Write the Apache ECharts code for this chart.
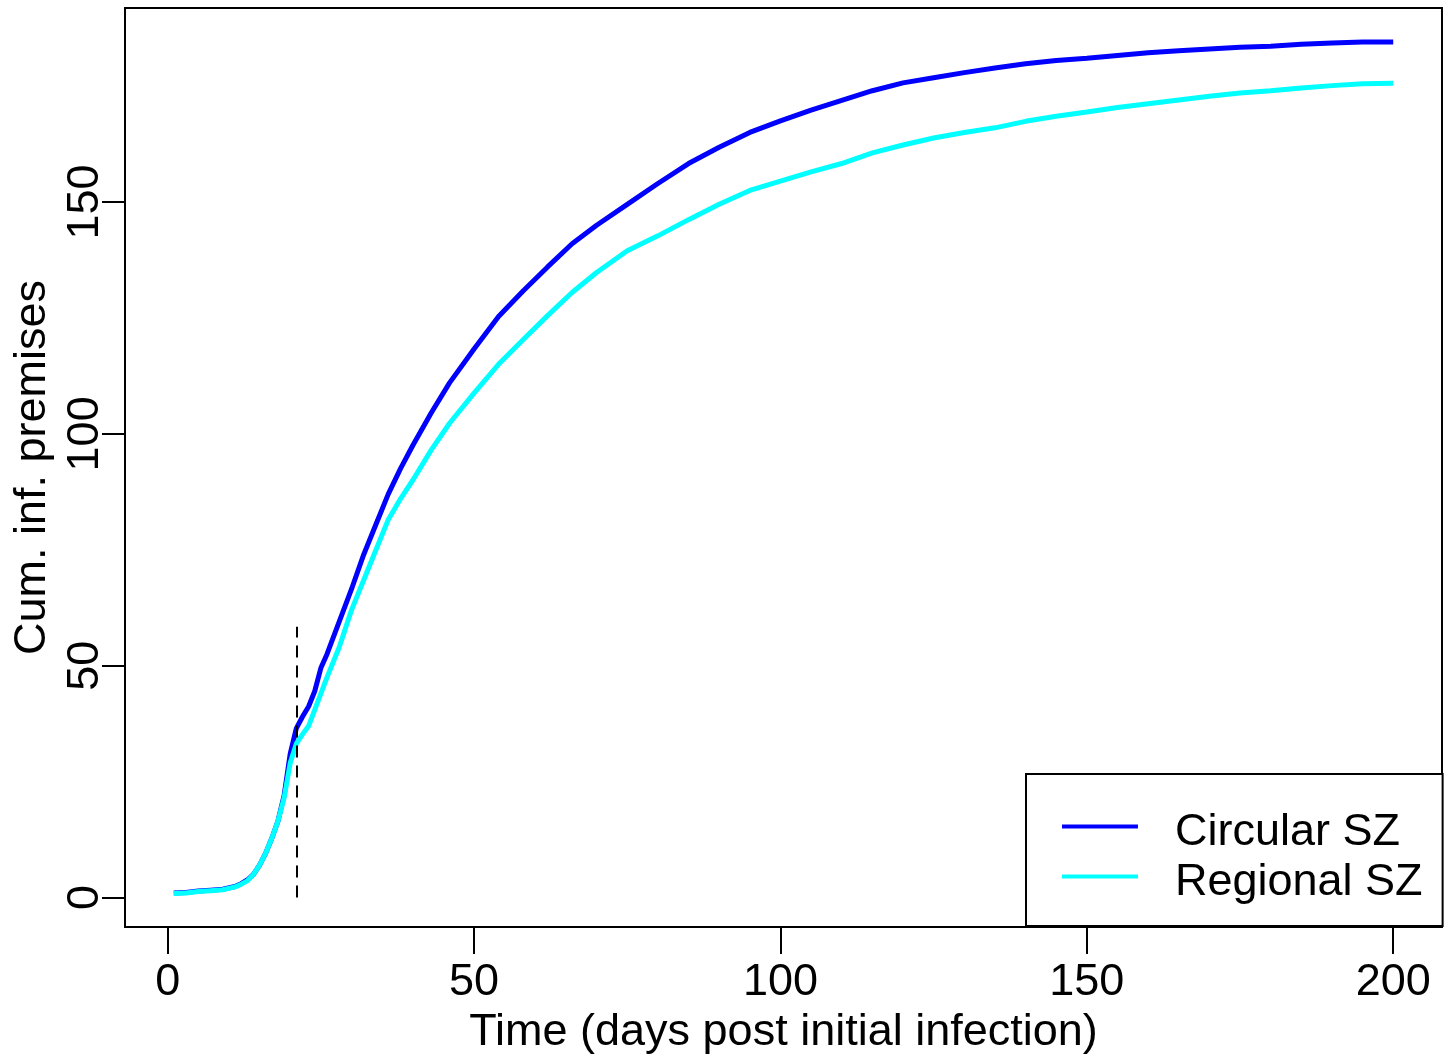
<!DOCTYPE html>
<html lang="en">
<head>
    <meta charset="UTF-8">
    <title>Cumulative infected premises</title>
    <script src="https://cdn.jsdelivr.net/npm/echarts@6/dist/echarts.min.js"></script>
    <style>
        html, body { margin: 0; padding: 0; background: #fff; }
    </style>
</head>
<body>
    <div id="main" style="width: 1444px;height:1060px;"></div>
    <script type="text/javascript">
        // days post initial infection
        var days = [1, 3, 5, 7, 9, 11, 12, 13, 14, 15, 16, 17, 18, 19, 20,
            21, 22, 23, 24, 25, 26, 28, 30, 32, 34, 36, 38, 40, 43, 46, 50, 54, 58, 62, 66, 70,
            75, 80, 85, 90, 95, 100, 105, 110, 115, 120, 125, 130, 135, 140, 145, 150,
            155, 160, 165, 170, 175, 180, 185, 190, 195, 200];

        var circularSZ = [1, 1.1, 1.4, 1.6, 1.8, 2.4, 3, 3.8, 5, 7, 9.6, 12.8, 16.5, 22, 31,
            36.5, 39, 41.2, 44.5, 49.5, 52.5, 59.5, 66.5, 74, 80.5, 87, 92.5, 97.5, 104.5, 111, 118.3, 125.3, 130.8, 136, 141, 145,
            149.5, 154, 158.3, 161.8, 165, 167.5, 169.8, 171.9, 174, 175.7, 176.8, 177.9, 178.9, 179.8, 180.5, 181,
            181.6, 182.2, 182.6, 183, 183.4, 183.6, 184, 184.3, 184.5, 184.5];

        var regionalSZ = [0.9, 1, 1.3, 1.5, 1.7, 2.3, 2.9, 3.6, 5, 7, 9.6, 12.8, 16.5, 21.5, 29,
            33.2, 35.2, 37, 40.5, 44, 47.5, 54, 62, 68.5, 75, 81.5, 86, 90, 96.5, 102.3, 108.8, 115, 120.3, 125.5, 130.5, 134.8,
            139.5, 142.7, 146.2, 149.5, 152.5, 154.5, 156.5, 158.3, 160.6, 162.3, 163.8, 165, 166, 167.4, 168.5, 169.4,
            170.4, 171.2, 172, 172.8, 173.5, 174, 174.6, 175.1, 175.5, 175.6];

        var xTicks = [0, 50, 100, 150, 200];
        var yTicks = [0, 50, 100, 150];

        // dashed marker (day, top value)
        var markerDay = 21;
        var markerTop = 58.4;

        function pairs(xs, ys) {
            var out = [];
            for (var i = 0; i < xs.length; i++) out.push([xs[i], ys[i]]);
            return out;
        }

        // legend line sits at the top of a taller icon box so the text lands a bit lower
        var legendIcon = 'path://M0,0H76V4H0Z M0,17H0.01V17.01H0Z';

        var font = 'Liberation Sans, Arial, sans-serif';
        var myChart = echarts.init(document.getElementById('main'));

        myChart.setOption({
            animation: false,
            backgroundColor: '#fff',
            grid: {
                left: 125, right: 2, top: 8, bottom: 133,
                show: true, borderColor: '#000', borderWidth: 2
            },
            legend: {
                orient: 'vertical',
                left: 1026, top: 774,
                padding: [34, 20, 18, 36],
                itemGap: 0,
                itemWidth: 76, itemHeight: 17,
                icon: legendIcon,
                borderColor: '#000', borderWidth: 2,
                backgroundColor: '#fff',
                textStyle: { fontFamily: font, fontSize: 45, color: '#000', lineHeight: 50, padding: [0, 0, 0, 32] },
                data: ['Circular SZ', 'Regional SZ']
            },
            xAxis: {
                type: 'value',
                min: -6.96, max: 207.96,
                splitLine: { show: false },
                axisLine: { show: true, onZero: false, lineStyle: { color: '#000', width: 2 } },
                axisTick: { show: true, inside: false, length: 27, customValues: xTicks, lineStyle: { color: '#000', width: 2 } },
                axisLabel: { customValues: xTicks, margin: 33, fontFamily: font, fontSize: 45, color: '#000' },
                name: 'Time (days post initial infection)',
                nameLocation: 'middle',
                nameGap: 80,
                nameTextStyle: { fontFamily: font, fontSize: 45, color: '#000' }
            },
            yAxis: {
                type: 'value',
                min: -6.34, max: 191.84,
                splitLine: { show: false },
                axisLine: { show: true, onZero: false, lineStyle: { color: '#000', width: 2 } },
                axisTick: { show: true, inside: false, length: 23, customValues: yTicks, lineStyle: { color: '#000', width: 2 } },
                axisLabel: { customValues: yTicks, rotate: 90, margin: 17, fontFamily: font, fontSize: 45, color: '#000' },
                name: 'Cum. inf. premises',
                nameLocation: 'middle',
                nameGap: 63,
                nameTextStyle: { fontFamily: font, fontSize: 45, color: '#000' }
            },
            series: [{
                name: 'Circular SZ',
                type: 'line',
                data: pairs(days, circularSZ),
                symbol: 'none',
                color: '#0000ff',
                lineStyle: { color: '#0000ff', width: 5 },
                markLine: {
                    silent: true,
                    symbol: 'none',
                    label: { show: false },
                    lineStyle: { color: '#000', width: 2, type: [12, 8] },
                    data: [[{ coord: [markerDay, 0] }, { coord: [markerDay, markerTop] }]]
                }
            }, {
                name: 'Regional SZ',
                type: 'line',
                data: pairs(days, regionalSZ),
                symbol: 'none',
                color: '#00ffff',
                lineStyle: { color: '#00ffff', width: 5 }
            }]
        });
    </script>
</body>
</html>
